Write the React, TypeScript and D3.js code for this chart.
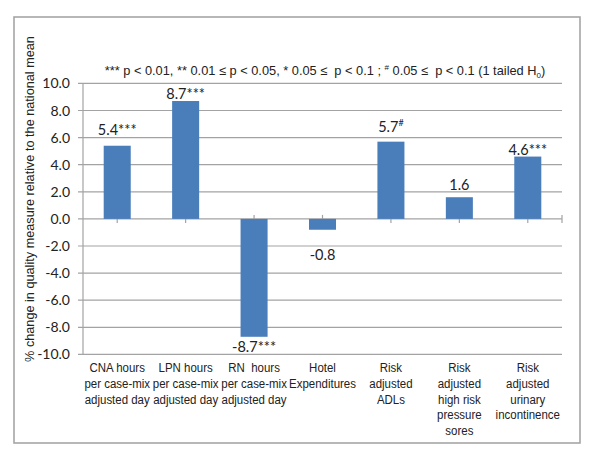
import React from 'react';
import * as d3 from 'd3';

// category labels (line breaks as in the original chart)
const categories = [
  'CNA hours\nper case-mix\nadjusted day',
  'LPN hours\nper case-mix\nadjusted day',
  'RN  hours\nper case-mix\nadjusted day',
  'Hotel\nExpenditures',
  'Risk\nadjusted\nADLs',
  'Risk\nadjusted\nhigh risk\npressure\nsores',
  'Risk\nadjusted\nurinary\nincontinence',
];
const values = [5.4, 8.7, -8.7, -0.8, 5.7, 1.6, 4.6];
const marks = ['***', '***', '***', '', '#', '', '***'];
const yTicks = [-10, -8, -6, -4, -2, 0, 2, 4, 6, 8, 10];
// manual label nudges (px), the source chart had them dragged around
const labelGap = [16, 7, 10, 25, 15, 12, 7];

const W = 600;
const H = 474;
const plot = { left: 83, right: 562, top: 83.4, bottom: 354.4 };
const sans = "'Liberation Sans', Arial, sans-serif";
const calib = "Lato, 'Open Sans', sans-serif";
const grid = '#a3a3a3';

const App = () => {
  const x = d3.scaleBand().domain(categories).range([plot.left, plot.right]).padding(0);
  const y = d3.scaleLinear().domain([-10, 10]).range([plot.bottom, plot.top]);
  const bw = x.bandwidth() * 0.395;
  const y0 = y(0);
  const cx = (c: string) => x(c)! + x.bandwidth() / 2;

  return (
    <svg width={W} height={H} style={{ position: 'absolute', left: 0, top: 0, background: '#fff' }}>
      <rect x={14} y={17} width={566} height={426} fill="#fff" stroke="#a6a6a6" strokeWidth={1.6} />

      {/* gridlines + y axis */}
      {yTicks.map((t) => (
        <g key={t}>
          <line x1={plot.left - 5} x2={plot.right} y1={y(t)} y2={y(t)} stroke={grid} strokeWidth={1.2} />
          <text x={70} y={y(t) + 5} textAnchor="end" fontFamily={calib} fontSize={14} fill="#222">
            {t.toFixed(1)}
          </text>
        </g>
      ))}
      <line x1={plot.left} x2={plot.left} y1={plot.top} y2={plot.bottom} stroke={grid} strokeWidth={1.2} />

      {/* category ticks, crossing the zero line */}
      {categories.map((c) => (
        <line key={c} x1={cx(c)} x2={cx(c)} y1={y0 - 4} y2={y0 + 4} stroke={grid} strokeWidth={1.2} />
      ))}
      <line x1={plot.right} x2={plot.right} y1={y0 - 4} y2={y0 + 4} stroke={grid} strokeWidth={1.2} />

      {/* bars */}
      {values.map((v, i) => (
        <rect
          key={i}
          x={cx(categories[i]) - bw / 2}
          y={Math.min(y(v), y0)}
          width={bw}
          height={Math.abs(y(v) - y0)}
          fill="#4a7ebb"
        />
      ))}

      {/* value labels */}
      {values.map((v, i) => {
        const ty = v >= 0 ? y(v) - labelGap[i] + 5 : y(v) + labelGap[i] + 5;
        return (
          <text key={i} x={cx(categories[i])} y={ty} textAnchor="middle" fontFamily={calib} fontSize={14.5} fill="#222">
            {v.toFixed(1)}
            {marks[i] === '#' ? (
              <tspan fontSize={9} dy={-6}>#</tspan>
            ) : (
              marks[i]
            )}
          </text>
        );
      })}

      {/* category labels, narrow */}
      {categories.map((c) => (
        <g key={c} transform={`translate(${cx(c)},0) scale(0.85,1)`}>
          <text textAnchor="middle" fontFamily={sans} fontSize={13.5} fill="#222">
            {c.split('\n').map((line, j) => (
              <tspan key={j} x={0} y={372 + j * 15.8} style={{ whiteSpace: 'pre' }}>
                {line}
              </tspan>
            ))}
          </text>
        </g>
      ))}

      {/* significance note */}
      <text x={325} y={75} textAnchor="middle" fontFamily={sans} fontSize={12.8} fill="#222" style={{ whiteSpace: 'pre' }}>
        {'*** p < 0.01, ** 0.01 \u2264 p < 0.05, * 0.05 \u2264  p < 0.1 ; '}
        <tspan fontSize={8} dy={-5}>#</tspan>
        <tspan dy={5}>{' 0.05 \u2264  p < 0.1 (1 tailed H'}</tspan>
        <tspan fontSize={8} dy={3}>0</tspan>
        <tspan dy={-3}>)</tspan>
      </text>

      {/* y axis title */}
      <text
        transform={`translate(34, 199) rotate(-90)`}
        textAnchor="middle"
        fontFamily={sans}
        fontSize={12.7}
        fill="#222"
      >
        % change in quality measure relative to the national mean
      </text>
    </svg>
  );
};

export default App;
